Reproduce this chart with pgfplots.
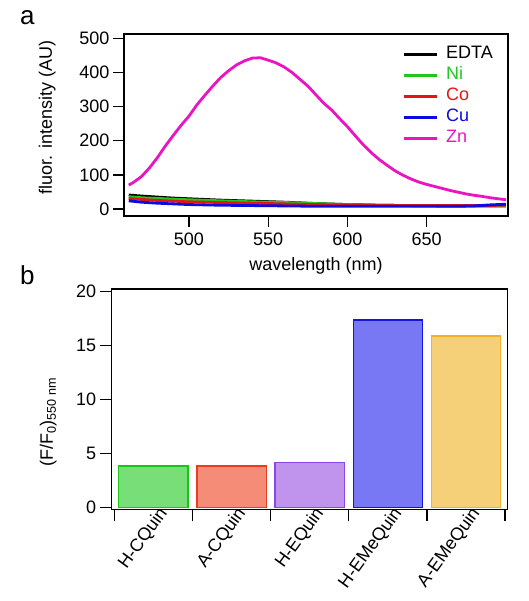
\documentclass[border=0pt]{standalone}
\usepackage{pgfplots}
\pgfplotsset{compat=1.18}
\usepackage{fontspec}
\setmainfont{Liberation Sans}
\definecolor{niG}{RGB}{30,200,30}
\definecolor{coR}{RGB}{230,20,20}
\definecolor{cuB}{RGB}{10,10,225}
\definecolor{znM}{RGB}{235,20,195}
\definecolor{f1}{RGB}{120,222,120}\definecolor{e1}{RGB}{20,200,20}
\definecolor{f2}{RGB}{245,140,120}\definecolor{e2}{RGB}{235,60,30}
\definecolor{f3}{RGB}{192,148,236}\definecolor{e3}{RGB}{140,70,230}
\definecolor{f4}{RGB}{120,120,245}\definecolor{e4}{RGB}{20,20,230}
\definecolor{f5}{RGB}{245,208,120}\definecolor{e5}{RGB}{245,175,40}
\pgfplotsset{
  myaxis/.style={
    scale only axis,
    axis line style={line width=1.3pt},
    every tick/.style={line width=1.3pt, black},
    tick align=outside,
    major tick length=11pt,
    tick label style={font=\fontsize{18}{20}\selectfont},
    label style={font=\fontsize{18}{20}\selectfont},
    /pgf/number format/assume math mode=true,
  }
}
\begin{document}
\begin{tikzpicture}
\path[use as bounding box] (0pt,0pt) rectangle (528pt,601pt);
\node[anchor=base west, font=\fontsize{26}{28}\selectfont, inner sep=0pt] at (20pt,576pt) {a};
\node[anchor=base west, font=\fontsize{26}{28}\selectfont, inner sep=0pt] at (20pt,316pt) {b};
\begin{axis}[myaxis,
  at={(124pt,385pt)}, anchor=south west,
  width=384pt, height=182pt,
  xmin=459, xmax=701.3, ymin=-20.5, ymax=512.6,
  xtick={500,550,600,650}, ytick={0,100,200,300,400,500},
  xtick pos=bottom, ytick pos=left,
  xticklabel style={yshift=-2pt},
  xlabel={wavelength (nm)}, ylabel={fluor. intensity (AU)},
  xlabel style={at={(axis description cs:0.5,-0.273)}, anchor=center},
  ylabel style={at={(axis description cs:-0.2,0.54)}, anchor=center, rotate=0},
  legend cell align=left,
  legend style={draw=none, fill=none, at={(axis description cs:0.724,0.93)}, anchor=north west,
    font=\fontsize{18}{20}\selectfont, inner sep=0pt, row sep=6pt,
    nodes={inner sep=0pt, text height=12pt, text depth=3pt}},
  legend image code/.code={\draw[line width=3pt] (0pt,0pt) -- (33pt,0pt); \path (41pt,0pt);},
  every axis plot/.append style={line width=2.8pt},
]
\addplot[black] coordinates {(462,41) (470,38) (480,35) (490,32) (500,30) (510,28) (520,26) (530,24.5) (540,23) (550,21.5) (560,20) (570,18) (580,16) (590,14.5) (600,13) (610,12) (620,11) (630,10.5) (640,10) (650,9.5) (660,9) (670,9) (680,9) (690,9) (700,9)};
\addplot[niG] coordinates {(462,36) (470,33) (480,31) (490,29) (500,27) (510,25.5) (520,24) (530,22.5) (540,21) (550,20) (560,19) (570,17.5) (580,16) (590,14.5) (600,13) (610,12) (620,11) (630,10.5) (640,10) (650,10) (660,10) (670,10) (680,10) (690,10) (700,10)};
\addplot[coR] coordinates {(462,31) (470,28) (480,25) (490,23) (500,21) (510,20) (520,19) (530,18) (540,17) (550,16) (560,15) (570,14) (580,13) (590,12.5) (600,12) (610,11.5) (620,11) (630,10.5) (640,10) (650,10) (660,10) (670,10) (680,10) (690,10.5) (700,11)};
\addplot[cuB] coordinates {(462,24) (470,20) (480,17) (490,15) (500,13) (510,12) (520,11) (530,10.5) (540,10) (550,9.5) (560,9) (570,8.5) (580,8) (590,8) (600,8) (610,8) (620,8) (630,8) (640,8) (650,8) (660,8) (670,8) (680,9) (690,12) (700,14)};
\addplot[znM] coordinates {(462,70) (465,78) (470,95) (475,120) (480,150) (485,184) (490,215) (495,245) (500,272) (505,305) (510,333) (515,360) (520,385) (525,405) (530,422) (535,434) (540,442) (545,443) (550,436) (555,428) (560,416) (565,400) (570,380) (575,360) (580,335) (585,310) (590,290) (595,265) (600,241) (605,214) (610,188) (615,165) (620,145) (625,128) (630,112) (635,99) (640,88) (645,79) (650,72) (655,66) (660,60) (665,54) (670,49) (675,44) (680,40) (685,37) (690,33) (695,30) (700,27)};
\legend{EDTA, \textcolor{niG}{Ni}, \textcolor{coR}{Co}, \textcolor{cuB}{Cu}, \textcolor{znM}{Zn}}
\end{axis}
\begin{axis}[myaxis,
  at={(111.7pt,91.7pt)}, anchor=south west,
  width=396pt, height=220.3pt,
  xmin=-0.534, xmax=4.534, ymin=-0.19, ymax=20.25,
  xtick={-0.5,0.5,1.5,2.5,3.5,4.5}, xticklabels={},
  major tick length=12pt,
  extra x ticks={0,1,2,3,4},
  extra x tick labels={H-CQuin,A-CQuin,H-EQuin,H-EMeQuin,A-EMeQuin},
  extra x tick style={major tick length=0pt,
    xticklabel style={rotate=54, anchor=east, xshift=9pt, yshift=-9pt}},
  ytick={0,5,10,15,20},
  xtick pos=bottom, ytick pos=left,
  ylabel={(F/F\textsubscript{0})\textsubscript{550 nm}},
  ylabel style={at={(axis description cs:-0.16,0.396)}, anchor=center},
  ybar, bar width=0.887,
]
\addplot[bar shift=0pt, fill=f1, draw=e1, line width=1.2pt] coordinates {(0,3.83)};
\addplot[bar shift=0pt, fill=f2, draw=e2, line width=1.2pt] coordinates {(1,3.83)};
\addplot[bar shift=0pt, fill=f3, draw=e3, line width=1.2pt] coordinates {(2,4.14)};
\addplot[bar shift=0pt, fill=f4, draw=e4, line width=1.2pt] coordinates {(3,17.37)};
\addplot[bar shift=0pt, fill=f5, draw=e5, line width=1.2pt] coordinates {(4,15.89)};
\end{axis}
\end{tikzpicture}
\end{document}
